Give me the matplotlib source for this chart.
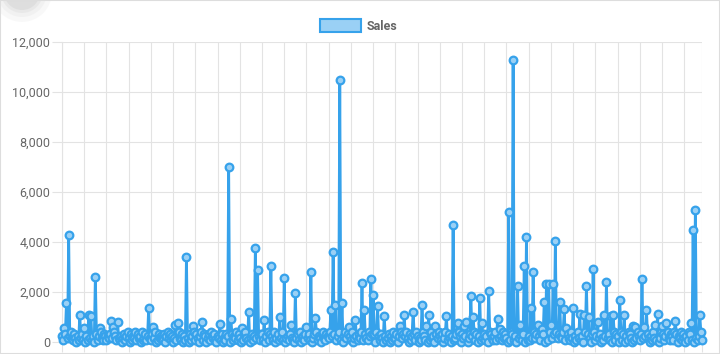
import matplotlib.pyplot as plt
import matplotlib.patches as mpatches
from matplotlib.ticker import FuncFormatter, MultipleLocator

plt.rcParams.update({
    'font.family': ['Roboto', 'DejaVu Sans'],
    'font.size': 9,
})

# Low daily sales at the bottom, one digit per point (x 80)
base_digits = (
    "3124021352 1420315241 2031425130 2413052143 1324021531 4213024135"
    "2041325142 3051241302 1432501423 2140352413 0241352140 3152041325"
    "1420352143 0241532410 3251402143 5024132514 2031452140 2413520314"
    "4120351423 1502413251 4023145210 3241502314 5241302415 1320452143"
    "2513042135 4120352413 1502431425 3104215324 1405231420 5312403152"
    "2403152413 5204132415 3021453120 4152301425 3140253142 0351241530"
    "4213502413 2514032152 4130254213 5102431524 2031542130 4253142051"
    "3142052413 1524302145 3214052413 2501342152 4031524130 2514320415"
    "1352402143 5241302514 3025142031 5420314253 1402531420 3152413025"
    "2413052143 1524032514 2031542130 4213052"
)
base_unit = 80

# Spikes: point index and value
peak_idx = [
    2, 4, 6, 16, 20, 24, 26, 30, 34, 44, 46, 50, 78, 82, 102, 104, 112, 118,
    126, 142, 150, 152, 162, 168, 174, 176, 182, 188, 196, 200, 206, 210, 220,
    224, 228, 242, 244, 246, 250, 252, 258, 264, 270, 272, 278, 280, 284, 290,
    304, 308, 316, 324, 328, 330, 336, 346, 352, 356, 362, 364, 368, 370, 376,
    378, 384, 392, 394, 402, 406, 410, 412, 416, 418, 422, 424, 428, 432, 434,
    436, 438, 440, 442, 444, 448, 452, 454, 460, 466, 470, 472, 474, 478, 482,
    488, 490, 494, 496, 502, 506, 514, 516, 522, 524, 526, 534, 536, 540, 544,
    552, 566, 568, 570, 574, 576,
]
peak_val = [
    570, 1570, 4300, 1080, 570, 1080, 1050, 2610, 570, 850, 600, 810, 1350, 610, 680, 750, 3400, 650,
    800, 720, 7000, 920, 550, 1210, 3770, 2880, 880, 3040, 1020, 2570, 680, 1970, 600,
    2790, 960, 1280, 3610, 1480, 10500, 1570, 590, 880, 2350, 1280, 2510, 1880, 1440, 1040,
    640, 1080, 1210, 1500, 640, 1080, 650, 1040, 4690, 750, 660, 790, 1840, 990, 1750,
    750, 2030, 930, 530, 5200, 11300, 2240, 680, 3040, 4210, 1350, 2810, 700, 520, 1610,
    2330, 2330, 680, 2330, 4030, 1590, 1310, 550, 1350, 1130, 1070, 2240, 1000, 2920, 810,
    1090, 2410, 1050, 1090, 1680, 1070, 640, 610, 2520, 600, 1270, 700, 1120, 640, 770,
    850, 770, 4470, 5280, 1090, 80,
]

sales = [int(d) * base_unit for d in base_digits.replace(' ', '')]
for i, v in zip(peak_idx, peak_val):
    sales[i] = v
labels = list(range(len(sales)))
label_step = 20

blue = '#36A2EB'
light_blue = '#9AD0F5'
grid_color = '#E3E3E3'
text_color = '#666666'

fig = plt.figure(figsize=(7.2, 3.54), dpi=100)
ax = fig.add_axes([62 / 720, 12 / 354, 640 / 720, 300 / 354])

ax.plot(labels, sales, color=blue, lw=2.0, marker='o', ms=5.5,
        mfc=light_blue, mec=blue, mew=1.6, zorder=3, clip_on=False)

ax.set_xlim(0, len(sales) - 1)
ax.set_ylim(0, 12000)
ax.yaxis.set_major_locator(MultipleLocator(2000))
ax.yaxis.set_major_formatter(FuncFormatter(lambda v, p: f'{int(v):,}'))
ax.set_xticks(list(range(0, len(sales), label_step)) + [len(sales) - 1])
ax.set_xticklabels([])

ax.grid(True, color=grid_color, lw=0.8)
ax.set_axisbelow(True)
for side in ['top', 'right']:
    ax.spines[side].set_visible(False)
ax.spines['left'].set_color(grid_color)
ax.spines['bottom'].set_color('#BFBFBF')
ax.tick_params(axis='both', color=grid_color, length=7, width=0.8,
               labelcolor=text_color, labelsize=9, pad=1.5)

# legend box, as drawn by the chart library
fig.patches.append(mpatches.Rectangle((320 / 720, 1 - 32 / 354), 41 / 720, 13 / 354,
                                      transform=fig.transFigure, fc=light_blue,
                                      ec=blue, lw=1.5))
fig.text(367 / 720, 1 - 26 / 354, 'Sales', color=text_color, fontsize=9,
         fontweight='bold', va='center', ha='left')

# faint shadow of a round button in the top-left corner
for r, a in [(30, 0.05), (25, 0.06), (21, 0.08), (18, 0.1)]:
    fig.patches.append(mpatches.Ellipse((22 / 720, 1 + 8 / 354), 2 * r / 720, 2 * r / 354,
                                        transform=fig.transFigure, fc='#888888',
                                        ec='none', alpha=a))

fig.patches.append(mpatches.Rectangle((0, 0), 1, 1, transform=fig.transFigure,
                                      fc='none', ec='#DDDDDD', lw=1.5))

plt.savefig('out.png', dpi=100)
